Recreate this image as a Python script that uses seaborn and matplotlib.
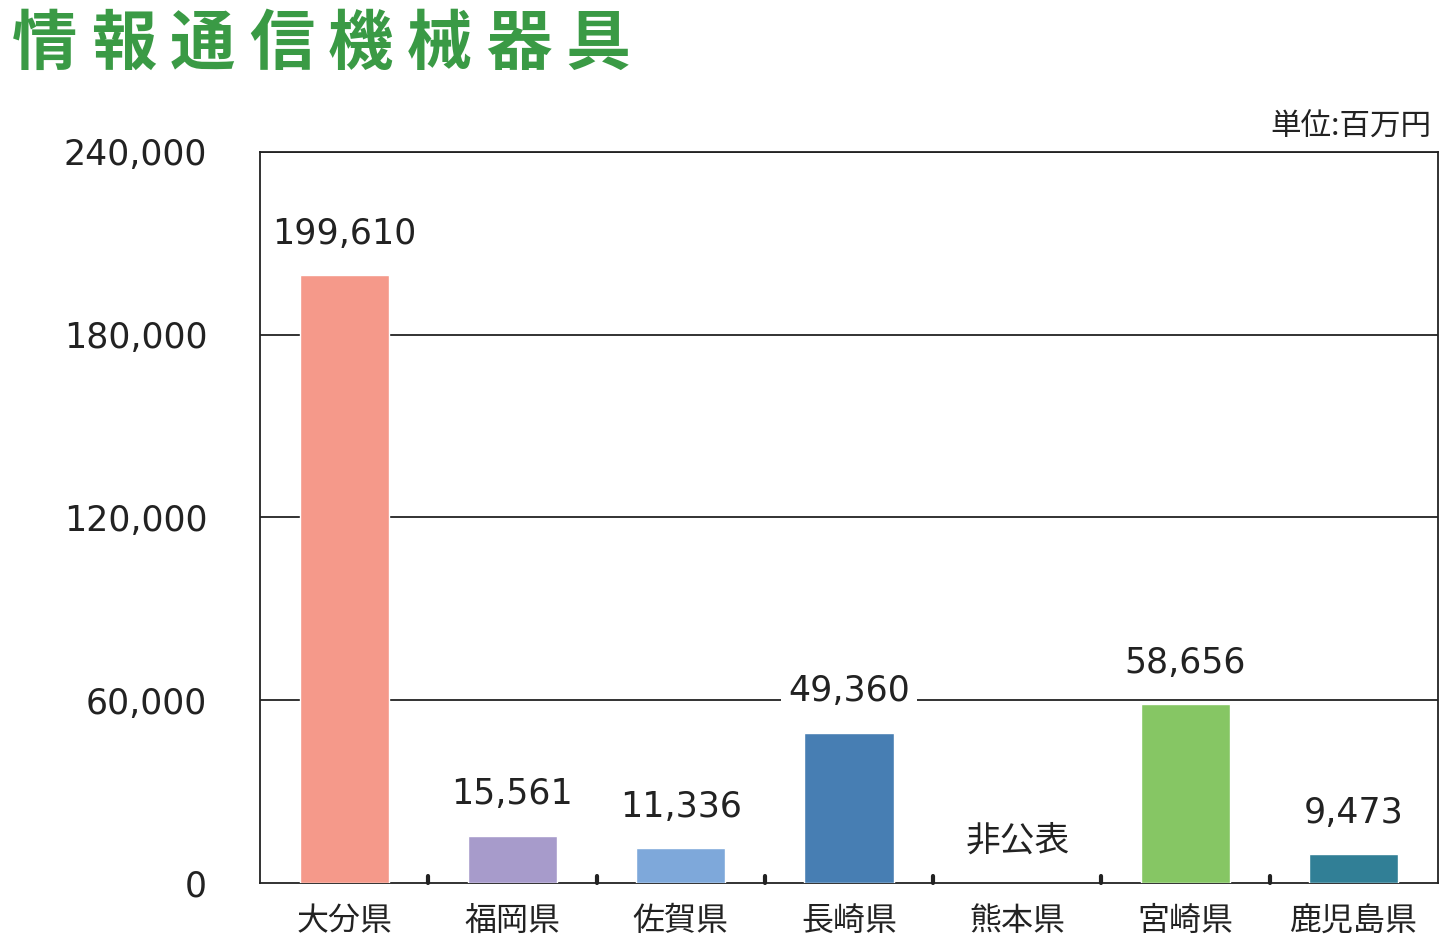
import matplotlib
matplotlib.use("Agg")
import matplotlib.pyplot as plt
import seaborn as sns
import numpy as np
import pandas as pd

prefs = ["大分県", "福岡県", "佐賀県", "長崎県", "熊本県", "宮崎県", "鹿児島県"]
values = [199610, 15561, 11336, 49360, np.nan, 58656, 9473]
labels = ["199,610", "15,561", "11,336", "49,360", "非公表", "58,656", "9,473"]
colors = ["#F5998A", "#A79BCB", "#7EA8DA", "#477EB3", "#FFFFFF", "#86C664", "#317F96"]
yticks = [0, 60000, 120000, 180000, 240000]
ytick_labels = ["0", "60,000", "120,000", "180,000", "240,000"]
title = "情報通信機械器具"

sns.set_theme(style="white")
plt.rcParams['font.family'] = ['Noto Sans CJK JP', 'DejaVu Sans']
numfont = ['DejaVu Sans', 'Noto Sans CJK JP']

fig = plt.figure(figsize=(14.5, 9.51), dpi=100)
ax = fig.add_axes([0.1793, 0.0715, 0.8124, 0.7687])
df = pd.DataFrame({"pref": prefs, "value": values})
sns.barplot(data=df, x="pref", y="value", hue="pref", palette=colors, legend=False,
            width=0.53, ax=ax, saturation=1, zorder=3)
ax.set_xlim(-0.5, len(prefs) - 0.5)
ax.set_ylim(0, 240000)
ax.set_yticks(yticks)
ax.set_yticklabels(ytick_labels, fontsize=25, color="#222222", family=numfont)
ax.set_xticks(range(len(prefs)))
ax.set_xticklabels(prefs, fontsize=23, color="#222222")
ax.tick_params(axis="y", length=0, pad=38)
ax.tick_params(axis="x", length=0, pad=16)
ax.set_xlabel("")
ax.set_ylabel("")
for y in yticks[1:]:
    ax.axhline(y, color="#222222", lw=1.3, zorder=1)
for s in ["left", "bottom", "right", "top"]:
    ax.spines[s].set_color("#222222")
    ax.spines[s].set_linewidth(1.3)
for b in np.arange(0.5, len(prefs) - 0.5, 1.0):
    ax.plot([b, b], [0, 2200], color="#222222", lw=3, zorder=4, clip_on=False)
for i, (v, t) in enumerate(zip(values, labels)):
    yv = 0 if np.isnan(v) else v
    fam = numfont if t[0].isdigit() else plt.rcParams['font.family']
    ax.text(i, yv + 8000, t, ha="center", va="bottom", fontsize=25, color="#222222",
            family=fam, zorder=5, bbox=dict(facecolor="white", edgecolor="none", pad=5))
for k, ch in enumerate(title):
    fig.text((12 + 79 * k) / 1450, 0.953, ch, fontsize=47, fontweight="bold",
             color="#3A9A45", ha="left", va="center")
fig.text(0.987, 0.866, "単位:百万円", fontsize=22, color="#222222", ha="right", va="center")
fig.savefig("out.png", dpi=100)
